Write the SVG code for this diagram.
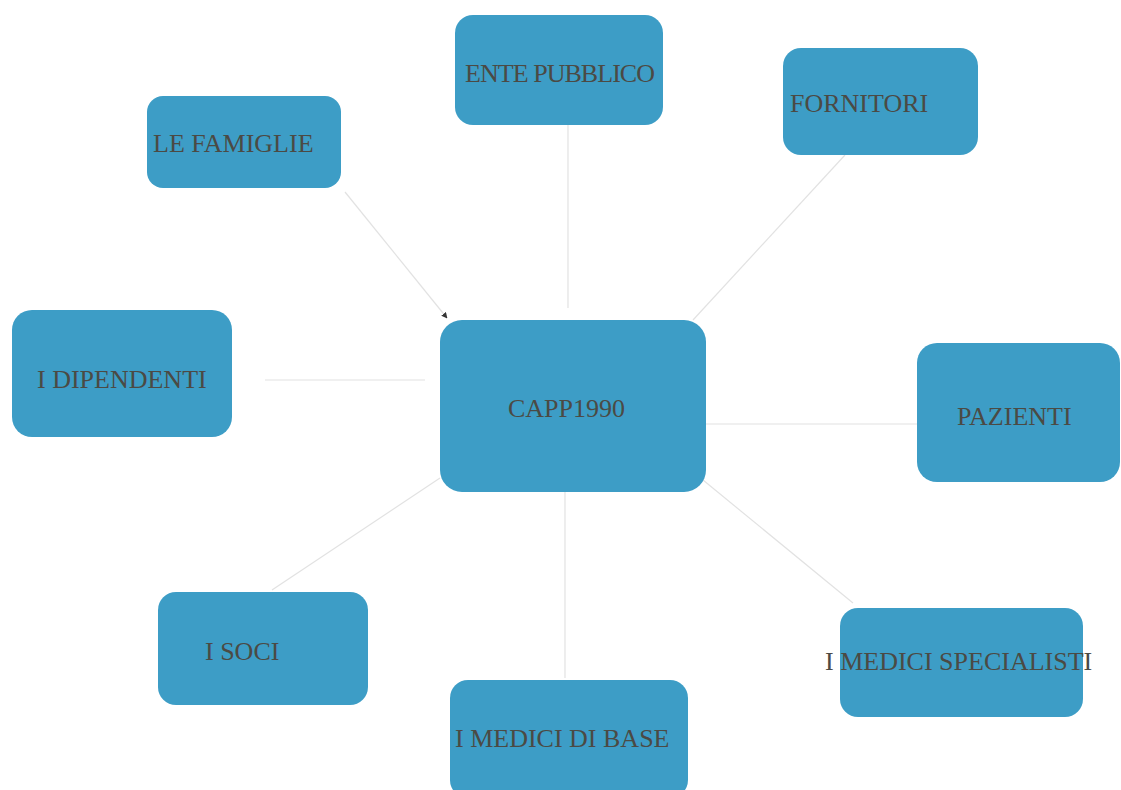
<svg xmlns="http://www.w3.org/2000/svg" width="1121" height="790" viewBox="0 0 1121 790">
<style>
.box{fill:#3d9dc6;}
.lbl{font-family:"Liberation Serif","Times New Roman",serif;font-size:26px;fill:#4b4a44;}
.con{stroke:#e2e2e2;stroke-width:1.2;fill:none;}
</style>
<defs>
<marker id="arr" viewBox="0 0 10 10" refX="9" refY="5" markerWidth="5" markerHeight="5" orient="auto">
<path d="M0,0 L10,5 L0,10 z" fill="#333"/>
</marker>
</defs>
<rect width="1121" height="790" fill="#ffffff"/>
<g id="connectors">
<line class="con" x1="568" y1="125" x2="568" y2="308"/>
<line class="con" x1="345" y1="192" x2="447" y2="318" marker-end="url(#arr)"/>
<line class="con" x1="845" y1="155" x2="693" y2="320"/>
<line class="con" x1="265" y1="380" x2="425" y2="380"/>
<line class="con" x1="706" y1="424" x2="917" y2="424"/>
<line class="con" x1="703" y1="480" x2="853" y2="603"/>
<line class="con" x1="565" y1="492" x2="565" y2="678"/>
<line class="con" x1="272" y1="590" x2="440" y2="478"/>
</g>
<g id="node-capp">
<rect class="box" x="440" y="320" width="266" height="172" rx="22"/>
<text class="lbl" x="508" y="417">CAPP1990</text>
</g>
<g id="node-ente">
<rect class="box" x="455" y="15" width="208" height="110" rx="18"/>
<text class="lbl" x="465" y="82" textLength="190">ENTE PUBBLICO</text>
</g>
<g id="node-famiglie">
<rect class="box" x="147" y="96" width="194" height="92" rx="16"/>
<text class="lbl" x="153" y="152">LE FAMIGLIE</text>
</g>
<g id="node-fornitori">
<rect class="box" x="783" y="48" width="195" height="107" rx="18"/>
<text class="lbl" x="790" y="112">FORNITORI</text>
</g>
<g id="node-dipendenti">
<rect class="box" x="12" y="310" width="220" height="127" rx="20"/>
<text class="lbl" x="37" y="388">I DIPENDENTI</text>
</g>
<g id="node-pazienti">
<rect class="box" x="917" y="343" width="203" height="139" rx="20"/>
<text class="lbl" x="957" y="425">PAZIENTI</text>
</g>
<g id="node-soci">
<rect class="box" x="158" y="592" width="210" height="113" rx="18"/>
<text class="lbl" x="205" y="660">I SOCI</text>
</g>
<g id="node-medici-base">
<rect class="box" x="450" y="680" width="238" height="118" rx="18"/>
<text class="lbl" x="455" y="747">I MEDICI DI BASE</text>
</g>
<g id="node-medici-specialisti">
<rect class="box" x="840" y="608" width="243" height="109" rx="18"/>
<text class="lbl" x="825" y="670">I MEDICI SPECIALISTI</text>
</g>
</svg>
